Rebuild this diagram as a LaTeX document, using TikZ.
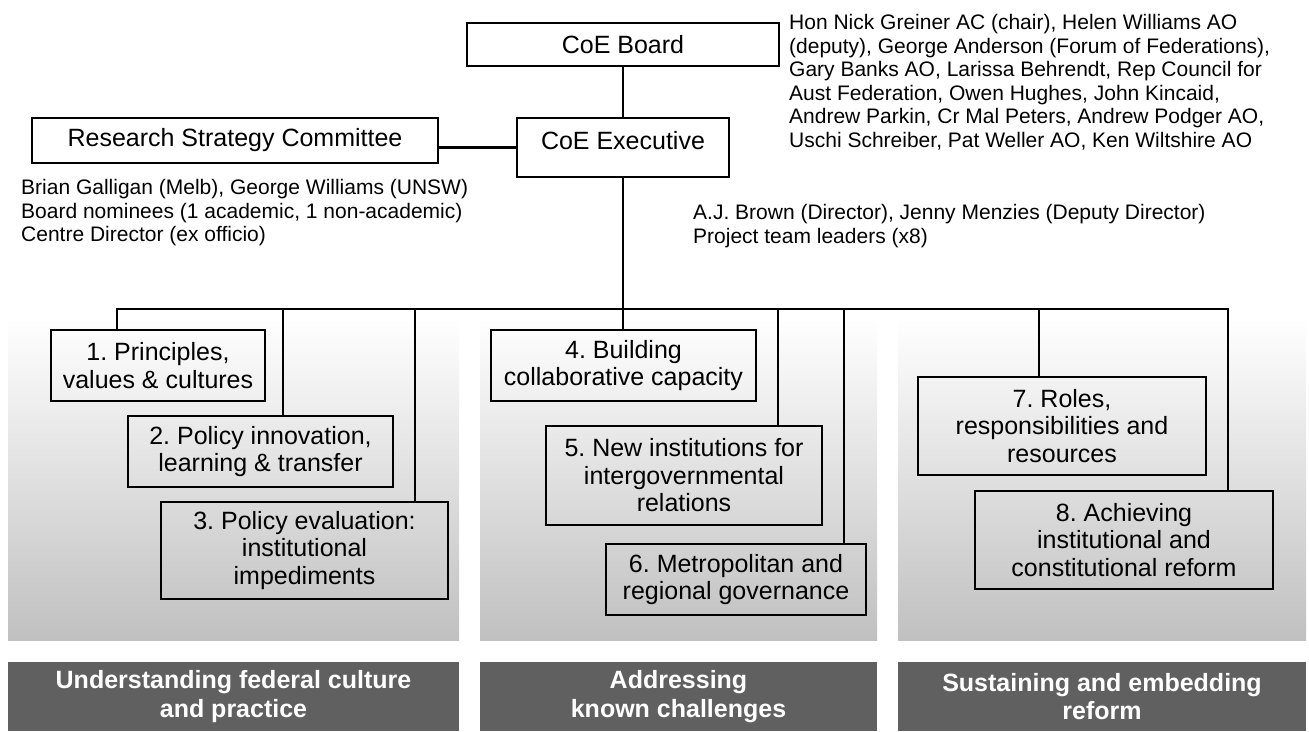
\documentclass[tikz,border=0pt]{standalone}
\usepackage{fontspec}
\setmainfont{Liberation Sans}
\usepackage{tikz}
\frenchspacing
\definecolor{bandgray}{RGB}{96,96,96}
\definecolor{panelgray}{RGB}{192,192,192}
\newcommand{\unitfont}{\fontsize{25}{27.5}\selectfont}
\newcommand{\notesfont}{\fontsize{21}{23.6}\selectfont}
\newcommand{\bandfont}{\fontsize{25}{28.5}\selectfont\bfseries}

\begin{document}
\begin{tikzpicture}[x=1pt, y=-1pt,
every edge/.style = {draw=black, line width=2.2pt},
 unit/.style args = {#1/#2}{%
      rectangle, draw, line width=2.6pt, inner sep=0pt,
      minimum width=#1pt, minimum height=#2pt,
      align=center, font=\unitfont},
 panel/.style args = {#1/#2}{%
      rectangle, inner sep=0pt, top color=white, bottom color=panelgray,
      minimum width=#1pt, minimum height=#2pt},
 band/.style args = {#1/#2}{%
      rectangle, fill=bandgray, text=white, inner sep=0pt,
      minimum width=#1pt, minimum height=#2pt,
      align=center, font=\bandfont},
 note/.style = {anchor=north west, inner sep=0pt, align=left, font=\notesfont}
                    ]
\useasboundingbox (0,0) rectangle (1309,731);
% theme panels and bands
\node(p1) [panel=451/322] at (233.5, 479) {};
\node(p2) [panel=397/322] at (678.5, 479) {};
\node(p3) [panel=408/322] at (1102, 479) {};
\node(s1) [band=451/69] at (233.5, 696.5) {Understanding federal culture\\and practice};
\node(s2) [band=397/69] at (678.5, 696.5) {Addressing\\known challenges};
\node(s3) [band=408/69] at (1102, 696.5) {Sustaining and embedding\\reform};
% governance
\node(board) [unit=312/43] at (623, 44.5) {CoE Board};
\node(exec) [unit=212/59, text height=31pt, text depth=28pt] at (623, 147.5) {CoE Executive};
\node(rsc) [unit=406/45] at (235, 140.5) {Research Strategy Committee};
\node(boardnote) [note] at (789, 14) {Hon Nick Greiner AC (chair), Helen Williams AO\\(deputy), George Anderson (Forum of Federations),\\Gary Banks AO, Larissa Behrendt, Rep Council for\\Aust Federation, Owen Hughes, John Kincaid,\\Andrew Parkin, Cr Mal Peters, Andrew Podger AO,\\Uschi Schreiber, Pat Weller AO, Ken Wiltshire AO};
\node(rscnote) [note] at (21, 179) {Brian Galligan (Melb), George Williams (UNSW)\\Board nominees (1 academic, 1 non-academic)\\Centre Director (ex officio)};
\node(execnote) [note] at (693, 204) {A.J. Brown (Director), Jenny Menzies (Deputy Director)\\Project team leaders (x8)};
% projects
\node(b1) [unit=214/71] at (158, 365.5) {1. Principles,\\values \& cultures};
\node(b2) [unit=265/71] at (260.5, 451.5) {2. Policy innovation,\\learning \& transfer};
\node(b3) [unit=287/97] at (304.5, 550.5) {3. Policy evaluation:\\institutional\\impediments};
\node(b4) [unit=265/71] at (623.5, 365.5) {4. Building\\collaborative capacity};
\node(b5) [unit=276/99] at (684, 475.5) {5. New institutions for\\intergovernmental\\relations};
\node(b6) [unit=260/71] at (736, 579.5) {6. Metropolitan and\\regional governance};
\node(b7) [unit=288/98] at (1062, 426) {7. Roles,\\responsibilities and\\resources};
\node(b8) [unit=298/98] at (1124, 540) {8. Achieving\\institutional and\\constitutional reform};
% bus taps
\coordinate(t1) at (117, 309);
\coordinate(t2) at (283, 309);
\coordinate(t3) at (415, 309);
\coordinate(t4) at (623, 309);
\coordinate(t5) at (778, 309);
\coordinate(t6) at (844, 309);
\coordinate(t7) at (1039, 309);
\coordinate(t8) at (1228, 309);
%
\path   (board)  edge (exec);
\path   (exec.west -| rsc.east)  edge (exec.west);
\path   (exec)  edge (t4);
\draw[line width=2.2pt] (t1 |- b1.north) -- (t1) -- (t8) -- (t8 |- b8.north);
\foreach \i in {2,...,7}
  \path (t\i) edge (t\i |- b\i.north);
\end{tikzpicture}
\end{document}
